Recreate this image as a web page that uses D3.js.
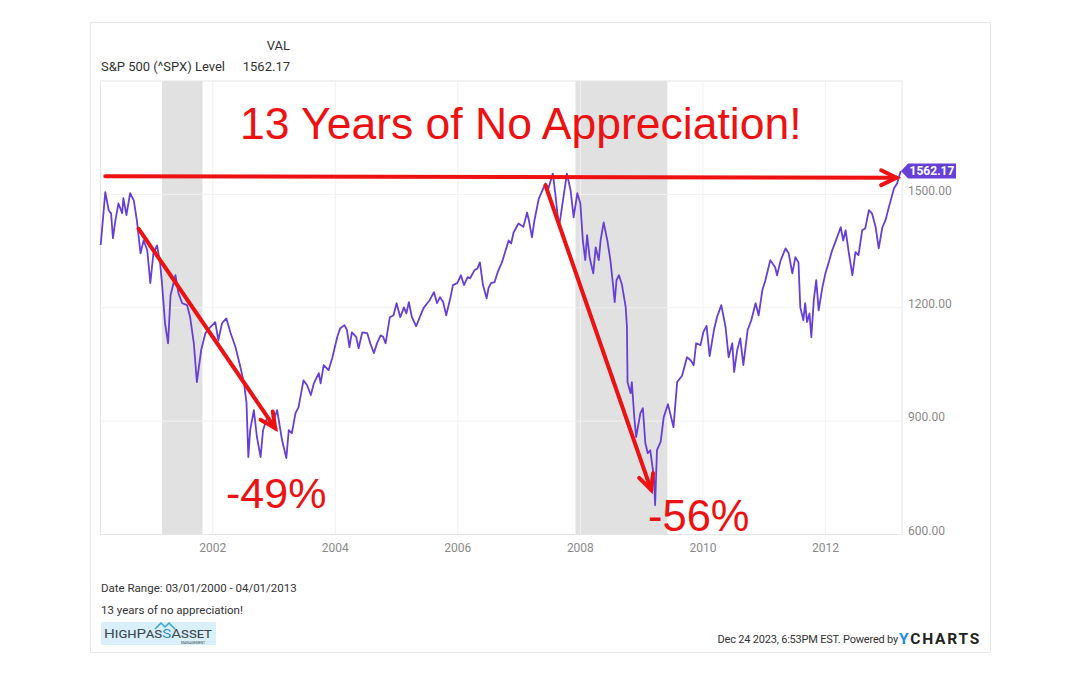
<!DOCTYPE html>
<meta charset="utf-8">
<style>
body { margin: 0; background: #fff; }
text { font-family: Roboto, "Noto Sans", sans-serif; }
.tick-label { fill: #8a8a8a; font-size: 12px; }
.note { font-family: "Liberation Sans", Arial, sans-serif; fill: #ee1111; }
</style>
<body>
<script src="https://d3js.org/d3.v7.min.js"></script>
<script>

// S&P 500 level, decimal years
var years = [
  2000.17, 2000.245, 2000.30, 2000.34, 2000.37, 2000.41, 2000.46, 2000.52, 2000.54, 2000.59,
  2000.65, 2000.71, 2000.76, 2000.82, 2000.87, 2000.93, 2000.98, 2001.03, 2001.09, 2001.14,
  2001.17, 2001.22, 2001.27, 2001.31, 2001.39, 2001.44, 2001.50, 2001.58, 2001.63, 2001.69,
  2001.74, 2001.81, 2001.88, 2001.96, 2002.04, 2002.09, 2002.15, 2002.22, 2002.29, 2002.37,
  2002.45, 2002.51, 2002.55, 2002.58, 2002.61, 2002.67, 2002.72, 2002.78, 2002.82, 2002.89,
  2002.97, 2003.05, 2003.13, 2003.20, 2003.24, 2003.29, 2003.35, 2003.40, 2003.48, 2003.54,
  2003.60, 2003.65, 2003.73, 2003.76, 2003.81, 2003.89, 2003.95, 2004.03, 2004.08, 2004.15,
  2004.19, 2004.23, 2004.27, 2004.34, 2004.38, 2004.44, 2004.52, 2004.57, 2004.63, 2004.68,
  2004.74, 2004.78, 2004.82, 2004.89, 2004.95, 2005.00, 2005.06, 2005.12, 2005.16, 2005.20,
  2005.25, 2005.32, 2005.39, 2005.44, 2005.50, 2005.54, 2005.61, 2005.66, 2005.71, 2005.76,
  2005.81, 2005.88, 2005.92, 2005.99, 2006.05, 2006.10, 2006.16, 2006.20, 2006.27, 2006.32,
  2006.36, 2006.41, 2006.47, 2006.50, 2006.54, 2006.60, 2006.65, 2006.72, 2006.78, 2006.83,
  2006.87, 2006.91, 2006.99, 2007.07, 2007.13, 2007.16, 2007.21, 2007.25, 2007.32, 2007.43,
  2007.48, 2007.55, 2007.59, 2007.65, 2007.70, 2007.78, 2007.84, 2007.89, 2007.95, 2008.00,
  2008.04, 2008.08, 2008.11, 2008.15, 2008.21, 2008.25, 2008.30, 2008.33, 2008.38, 2008.44,
  2008.49, 2008.53, 2008.56, 2008.59, 2008.63, 2008.68, 2008.74, 2008.76, 2008.77, 2008.82,
  2008.84, 2008.88, 2008.91, 2008.98, 2009.02, 2009.06, 2009.10, 2009.14, 2009.20, 2009.22,
  2009.25, 2009.31, 2009.36, 2009.43, 2009.52, 2009.58, 2009.66, 2009.74, 2009.80, 2009.85,
  2009.89, 2009.96, 2010.01, 2010.06, 2010.11, 2010.18, 2010.23, 2010.30, 2010.37, 2010.42,
  2010.48, 2010.51, 2010.56, 2010.61, 2010.66, 2010.73, 2010.79, 2010.86, 2010.91, 2010.97,
  2011.02, 2011.10, 2011.18, 2011.21, 2011.27, 2011.35, 2011.40, 2011.46, 2011.51, 2011.56,
  2011.59, 2011.64, 2011.67, 2011.70, 2011.74, 2011.77, 2011.81, 2011.85, 2011.89, 2011.95,
  2012.00, 2012.05, 2012.11, 2012.16, 2012.25, 2012.29, 2012.33, 2012.38, 2012.44, 2012.49,
  2012.54, 2012.60, 2012.65, 2012.71, 2012.76, 2012.82, 2012.87, 2012.93, 2012.98, 2013.03,
  2013.12, 2013.17, 2013.23
];
var levels = [
  1366, 1506, 1458, 1449, 1384, 1431, 1476, 1450, 1490, 1445,
  1503, 1484, 1431, 1344, 1378, 1352, 1265, 1344, 1365, 1318,
  1265, 1159, 1106, 1233, 1286, 1238, 1212, 1207, 1175, 1106,
  1003, 1088, 1133, 1149, 1162, 1114, 1159, 1172, 1133, 1096,
  1043, 1000, 948, 805, 876, 929, 858, 805, 876, 911,
  890, 929, 850, 802, 876, 868, 921, 937, 1008, 995,
  969, 1000, 1027, 1000, 1048, 1035, 1067, 1122, 1146, 1154,
  1141, 1096, 1135, 1123, 1093, 1135, 1133, 1106, 1080, 1106,
  1127, 1123, 1106, 1175, 1180, 1212, 1175, 1201, 1185, 1215,
  1175, 1151, 1180, 1199, 1212, 1220, 1241, 1212, 1228, 1215,
  1180, 1228, 1260, 1265, 1286, 1260, 1281, 1278, 1299, 1304,
  1320, 1260, 1225, 1252, 1265, 1268, 1294, 1320, 1352, 1378,
  1370, 1399, 1423, 1414, 1452, 1431, 1386, 1431, 1488, 1529,
  1516, 1555, 1503, 1413, 1466, 1555, 1511, 1439, 1503, 1476,
  1378, 1326, 1392, 1334, 1291, 1360, 1326, 1378, 1426, 1378,
  1326, 1265, 1215, 1273, 1286, 1260, 1201, 1149, 1003, 974,
  1003, 911, 858, 921, 934, 842, 815, 823, 752, 678,
  823, 845, 910, 945, 884, 1004, 1020, 1069, 1061, 1048,
  1106, 1101, 1137, 1152, 1072, 1141, 1175, 1207, 1149, 1069,
  1106, 1030, 1088, 1119, 1048, 1141, 1167, 1212, 1180, 1246,
  1273, 1326, 1307, 1286, 1326, 1357, 1344, 1291, 1334, 1320,
  1201, 1167, 1212, 1162, 1185, 1122, 1220, 1273, 1193, 1254,
  1291, 1318, 1352, 1373, 1413, 1378, 1405, 1347, 1286, 1347,
  1339, 1405, 1410, 1458, 1450, 1413, 1357, 1413, 1431, 1463,
  1516, 1529, 1562.17
];

var xTicks = [2002, 2004, 2006, 2008, 2010, 2012];
var yTicks = [600, 900, 1200, 1500];
var recessions = [[2001.17, 2001.83], [2007.92, 2009.42]];
var lastValue = 1562.17;

// annotation arrows in data space: [year, level] -> [year, level]
var arrows = [
  [[2000.245, 1548], [2013.16, 1544]],
  [[2000.79, 1409], [2003.02, 881]],
  [[2007.43, 1524], [2009.155, 718]]
];

var width = 1080, height = 675;
var svg = d3.select("body").append("svg")
    .attr("width", width)
    .attr("height", height);

// outer frame
svg.append("rect")
    .attr("x", 90.5).attr("y", 22.5)
    .attr("width", 900).attr("height", 630)
    .attr("fill", "#fff").attr("stroke", "#e8e8e8");

var x = d3.scaleLinear().domain([2000 + 2 / 12, 2013.25]).range([100.5, 902]);
var y = d3.scaleLinear().domain([600, 1800]).range([534.5, 81]);

// recession shading
svg.selectAll(".rec").data(recessions).enter().append("rect")
    .attr("x", function(d) { return x(d[0]); })
    .attr("width", function(d) { return x(d[1]) - x(d[0]); })
    .attr("y", y(1800)).attr("height", y(600) - y(1800))
    .attr("fill", "#e1e1e1");

// grid
svg.selectAll(".vgrid").data(xTicks).enter().append("line")
    .attr("x1", function(d) { return x(d); }).attr("x2", function(d) { return x(d); })
    .attr("y1", y(1800)).attr("y2", y(600))
    .attr("stroke", "#f1f1f1");
svg.selectAll(".hgrid").data(yTicks.slice(1)).enter().append("line")
    .attr("x1", x.range()[0]).attr("x2", x.range()[1])
    .attr("y1", function(d) { return y(d); }).attr("y2", function(d) { return y(d); })
    .attr("stroke", "#f1f1f1");

// plot border
svg.append("rect")
    .attr("x", x.range()[0]).attr("y", y(1800))
    .attr("width", x.range()[1] - x.range()[0]).attr("height", y(600) - y(1800))
    .attr("fill", "none").attr("stroke", "#e6e6e6");

// axes labels
svg.selectAll(".xl").data(xTicks).enter().append("text")
    .attr("class", "tick-label")
    .attr("x", function(d) { return x(d); }).attr("y", 552)
    .attr("text-anchor", "middle")
    .text(function(d) { return d; });
svg.selectAll(".yl").data(yTicks).enter().append("text")
    .attr("class", "tick-label")
    .attr("x", 908).attr("y", function(d) { return y(d) - 4; })
    .attr("dy", "0.35em")
    .text(function(d) { return d3.format(".2f")(d); });

// the series
var pts = years.map(function(t, i) { return [t, levels[i]]; });
var line = d3.line()
    .x(function(d) { return x(d[0]); })
    .y(function(d) { return y(d[1]); });
svg.append("path")
    .datum(pts)
    .attr("d", line)
    .attr("fill", "none")
    .attr("stroke", "#6640d6")
    .attr("stroke-width", 1.8)
    .attr("stroke-linejoin", "round");

// last value badge
var by = y(lastValue);
svg.append("path")
    .attr("d", "M" + 901 + "," + by + "L908," + (by - 7.5) + "L956," + (by - 7.5) +
               "L956," + (by + 7.5) + "L908," + (by + 7.5) + "Z")
    .attr("fill", "#6640d6");
svg.append("text")
    .attr("x", 932).attr("y", by).attr("dy", "0.36em")
    .attr("text-anchor", "middle")
    .attr("fill", "#fff").attr("font-size", 12).attr("font-weight", "bold")
    .text(d3.format(".2f")(lastValue));

// red arrows
arrows.forEach(function(a) {
  var x1 = x(a[0][0]), y1 = y(a[0][1]), x2 = x(a[1][0]), y2 = y(a[1][1]);
  var ang = Math.atan2(y2 - y1, x2 - x1), L = 17, spread = 0.45;
  svg.append("line")
      .attr("x1", x1).attr("y1", y1).attr("x2", x2).attr("y2", y2)
      .attr("stroke", "#ee1111").attr("stroke-width", 4).attr("stroke-linecap", "round");
  svg.append("path")
      .attr("d", "M" + (x2 - L * Math.cos(ang - spread)) + "," + (y2 - L * Math.sin(ang - spread)) +
                 "L" + x2 + "," + y2 +
                 "L" + (x2 - L * Math.cos(ang + spread)) + "," + (y2 - L * Math.sin(ang + spread)))
      .attr("fill", "none").attr("stroke", "#ee1111").attr("stroke-width", 4)
      .attr("stroke-linejoin", "miter").attr("stroke-linecap", "round");
});

// big red notes
svg.append("text").attr("class", "note")
    .attr("x", 240).attr("y", 139).attr("font-size", 44.5)
    .text("13 Years of No Appreciation!");
svg.append("text").attr("class", "note")
    .attr("x", 226).attr("y", 508).attr("font-size", 43)
    .text("-49%");
svg.append("text").attr("class", "note")
    .attr("x", 648).attr("y", 531).attr("font-size", 43.5)
    .text("-56%");

// header
svg.append("text").attr("x", 290).attr("y", 50).attr("text-anchor", "end")
    .attr("fill", "#333").attr("font-size", 13).text("VAL");
svg.append("text").attr("x", 101).attr("y", 71)
    .attr("fill", "#333").attr("font-size", 13).text("S&P 500 (^SPX) Level");
svg.append("text").attr("x", 290).attr("y", 71).attr("text-anchor", "end")
    .attr("fill", "#333").attr("font-size", 13).text(d3.format(".2f")(lastValue));

// footer
svg.append("text").attr("x", 101).attr("y", 592)
    .attr("fill", "#333").attr("font-size", 11.5).text("Date Range: 03/01/2000 - 04/01/2013");
svg.append("text").attr("x", 101).attr("y", 614)
    .attr("fill", "#333").attr("font-size", 11.5).text("13 years of no appreciation!");

// logo
var logo = svg.append("g").attr("transform", "translate(101,622)");
logo.append("rect").attr("width", 115).attr("height", 23).attr("fill", "#d9eff9");
logo.append("path").attr("d", "M54,7 L60,1 L64,5 L68,1 L74,7")
    .attr("fill", "none").attr("stroke", "#3aa3d8").attr("stroke-width", 1.5);
var lt = logo.append("text").attr("x", 3).attr("y", 16)
    .attr("font-family", "Liberation Serif, DejaVu Serif, serif")
    .attr("font-size", 13.5).attr("fill", "#3c4a55")
    .attr("textLength", 108).attr("lengthAdjust", "spacingAndGlyphs")
    .style("font-variant", "small-caps");
lt.append("tspan").text("HighPas");
lt.append("tspan").attr("fill", "#2b8fd0").text("S");
lt.append("tspan").text("Asset");
logo.append("text").attr("x", 80).attr("y", 21.5)
    .attr("font-family", "Liberation Serif, serif")
    .attr("font-size", 3.5).attr("fill", "#3c4a55")
    .text("MANAGEMENT");

svg.append("text").attr("x", 898).attr("y", 643)
    .attr("text-anchor", "end").attr("fill", "#333").attr("font-size", 11)
    .attr("letter-spacing", -0.2)
    .text("Dec 24 2023, 6:53PM EST. Powered by");
var yc = svg.append("text").attr("x", 899).attr("y", 644)
    .attr("font-size", 15.5).attr("font-weight", "bold").attr("letter-spacing", 1.8);
yc.append("tspan").attr("fill", "#1a8fe8").text("Y");
yc.append("tspan").attr("fill", "#222").text("CHARTS");

</script>
</body>
